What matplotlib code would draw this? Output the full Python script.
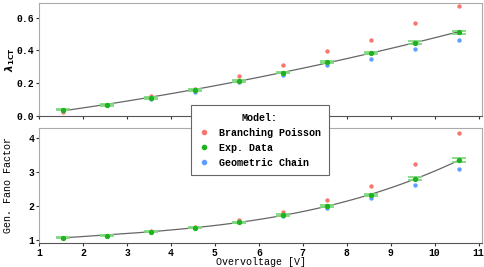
import numpy as np
import matplotlib.pyplot as plt
from matplotlib.lines import Line2D

plt.rcParams['font.family'] = ['Liberation Mono', 'DejaVu Sans Mono']
plt.rcParams['font.weight'] = 'bold'
plt.rcParams['font.size'] = 7.2

# Überspannung (Messpunkte)
overvoltage = [1.55, 2.55, 3.55, 4.55, 5.55, 6.55, 7.55, 8.55, 9.55, 10.55]

# lambda_1CT
lam_exp = [0.037, 0.067, 0.110, 0.160, 0.215, 0.265, 0.328, 0.384, 0.447, 0.512]
lam_exp_err = [0.004, 0.004, 0.004, 0.005, 0.005, 0.006, 0.006, 0.007, 0.008, 0.009]
lam_bp = [0.026, 0.065, 0.122, 0.165, 0.243, 0.308, 0.394, 0.461, 0.566, 0.669]
lam_gc = [0.035, 0.065, 0.105, 0.147, 0.206, 0.251, 0.308, 0.349, 0.410, 0.465]

# generalisierter Fano-Faktor
fano_exp = [1.07, 1.13, 1.245, 1.36, 1.52, 1.735, 2.00, 2.32, 2.80, 3.35]
fano_exp_err = [0.01, 0.01, 0.015, 0.015, 0.02, 0.02, 0.03, 0.03, 0.04, 0.05]
fano_bp = [1.07, 1.13, 1.26, 1.38, 1.60, 1.83, 2.19, 2.60, 3.25, 4.15]
fano_gc = [1.07, 1.13, 1.24, 1.35, 1.52, 1.70, 1.95, 2.23, 2.61, 3.08]

c_red = '#f8766d'
c_green = '#1fb21f'
c_green_light = '#7fd97f'
c_blue = '#619cff'

fig = plt.figure(figsize=(4.84, 2.67), dpi=100)
ax1 = fig.add_axes([0.081, 0.566, 0.915, 0.423])
ax2 = fig.add_axes([0.081, 0.09, 0.915, 0.432], sharex=ax1)


def draw(ax, y_exp, y_err, y_bp, y_gc, deg):
    x = np.array(overvoltage)
    # Fit durch die Messdaten
    p = np.polyfit(x, y_exp, deg)
    xf = np.linspace(x[0], x[-1], 200)
    ax.plot(xf, np.polyval(p, xf), color='#666666', lw=0.9, zorder=1)
    ax.scatter(x, y_bp, s=10, color=c_red, zorder=3, linewidths=0)
    ax.scatter(x, y_gc, s=10, color=c_blue, zorder=3, linewidths=0)
    ax.errorbar(x, y_exp, yerr=y_err, fmt='o', ms=2.8, color=c_green,
                ecolor=c_green_light, elinewidth=1.2, capsize=5,
                capthick=1.3, zorder=4)
    for side in ['top', 'right', 'left']:
        ax.spines[side].set_color('#aaaaaa')
    ax.spines['bottom'].set_color('#555555')
    ax.tick_params(direction='out', length=2.5, width=0.8, color='#333333',
                   pad=1, labelsize=7)


draw(ax1, lam_exp, lam_exp_err, lam_bp, lam_gc, 2)
draw(ax2, fano_exp, fano_exp_err, fano_bp, fano_gc, 3)

ax1.set_xlim(1, 11.08)
ax1.set_xticks(range(1, 12))
ax1.set_ylim(0, 0.69)
ax1.set_yticks([0.0, 0.2, 0.4, 0.6])
ax1.set_yticklabels(['0.0', '0.2', '0.4', '0.6'])
ax1.tick_params(labelbottom=False)
ax2.set_ylim(0.91, 4.31)
ax2.set_yticks([1, 2, 3, 4])

ax1.set_ylabel(r'$\lambda_{\mathrm{1CT}}$', fontsize=7.5, va='center')
ax1.yaxis.set_label_coords(-0.066, 0.5)
ax2.set_ylabel('Gen. Fano Factor', va='center')
ax2.yaxis.set_label_coords(-0.07, 0.5)
ax2.set_xlabel('Overvoltage [V]', va='center')
ax2.xaxis.set_label_coords(0.5, -0.165)

handles = [
    Line2D([], [], ls='none', marker='o', ms=3, color=c_red, label='Branching Poisson'),
    Line2D([], [], ls='none', marker='o', ms=3, color=c_green, label='Exp. Data'),
    Line2D([], [], ls='none', marker='o', ms=3, color=c_blue, label='Geometric Chain'),
]
leg = fig.legend(handles=handles, title='Model:', loc='center',
                 bbox_to_anchor=(0.537, 0.475), frameon=True, fancybox=False,
                 edgecolor='#666666', framealpha=1, handletextpad=0.9,
                 borderpad=0.75, labelspacing=0.5, handlelength=1.2)
leg.get_title().set_fontweight('bold')
leg.get_frame().set_linewidth(0.8)
leg.set_zorder(10)

fig.savefig('out.png', dpi=100)
